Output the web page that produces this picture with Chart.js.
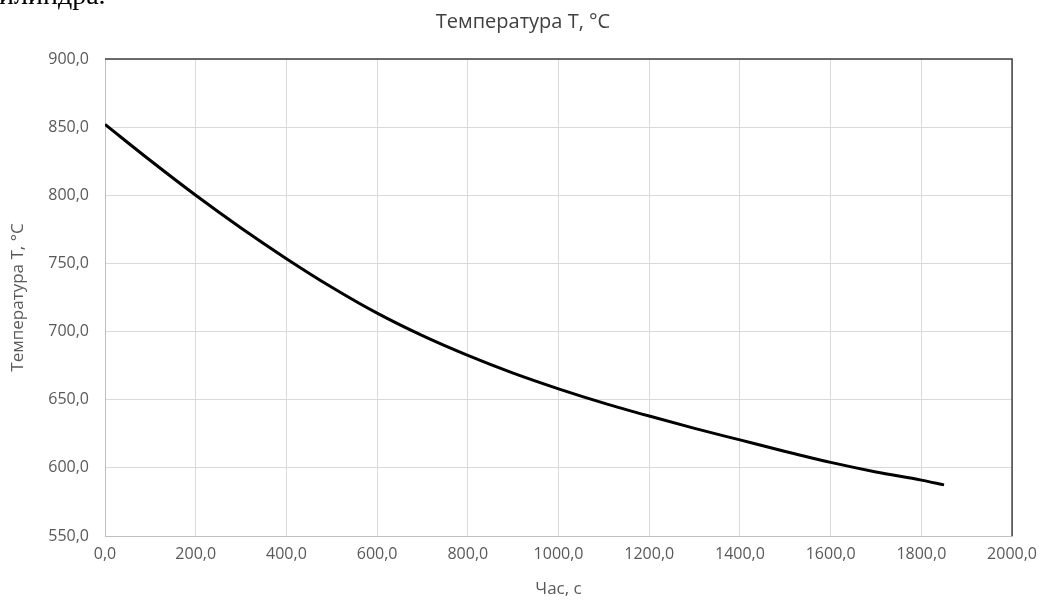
<!DOCTYPE html>
<html>
<head>
<meta charset="utf-8">
<script src="https://cdn.jsdelivr.net/npm/chart.js@4/dist/chart.umd.min.js"></script>
<style>
html,body{margin:0;padding:0;background:#fff;overflow:hidden;}
#wrap{position:relative;width:1046px;height:601px;}
#cut{position:absolute;left:-16px;top:-21px;font-family:"Liberation Serif",serif;font-size:28px;color:#000;white-space:nowrap;}
</style>
</head>
<body>
<div id="wrap">
<canvas id="c" width="1046" height="601"></canvas>
<div id="cut">цилиндра.</div>
</div>
<script>
const timeSec = [0,100,200,300,400,500,600,700,800,900,1000,1100,1200,1300,1400,1500,1600,1700,1800,1850];
const tempC   = [852,825.5,800,776,753.5,732.5,713.5,697,682.5,669.5,658,647.5,638,629,620.5,612,604,597,591,587.5];
const chartTitle = "Температура Т, °С";
const xTitle = "Час, с";
const yTitle = "Температура Т, °С";

const points = timeSec.map((t,i)=>({x:t,y:tempC[i]}));
const fmt = v => Number(v).toFixed(1).replace('.', ',');

const frame = {
  id:'frame',
  afterDatasetsDraw(chart){
    const {ctx, chartArea:a} = chart;
    ctx.save();
    ctx.strokeStyle = '#404040';
    ctx.lineWidth = 1.5;
    ctx.beginPath();
    ctx.moveTo(a.left, a.top);
    ctx.lineTo(a.right, a.top);
    ctx.lineTo(a.right, a.bottom);
    ctx.stroke();
    ctx.restore();
  }
};

const FONT = '"Open Sans"';

new Chart(document.getElementById('c'), {
  type:'line',
  data:{datasets:[{data:points,borderColor:'#000',borderWidth:3,pointRadius:0,cubicInterpolationMode:'monotone',fill:false}]},
  options:{
    responsive:false,animation:false,
    layout:{padding:{left:30,right:30,top:8,bottom:2}},
    plugins:{
      legend:{display:false},tooltip:{enabled:false},
      title:{display:true,text:chartTitle,color:'#404040',font:{family:FONT,size:20,weight:'normal'},padding:{top:2,bottom:25}}
    },
    scales:{
      x:{type:'linear',min:0,max:2000,
        afterFit:s=>{s.height=63;},
        ticks:{stepSize:200,callback:fmt,color:'#595959',font:{family:FONT,size:16},padding:9,maxRotation:0},
        grid:{color:'#d9d9d9',drawTicks:false},
        border:{color:'#bfbfbf'},
        title:{display:true,text:xTitle,color:'#595959',font:{family:FONT,size:17},padding:{top:6,bottom:0}}
      },
      y:{min:550,max:900,
        afterFit:s=>{s.width=75;},
        ticks:{stepSize:50,callback:fmt,color:'#595959',font:{family:FONT,size:16},padding:16},
        grid:{color:'#d9d9d9',drawTicks:false},
        border:{color:'#bfbfbf'},
        title:{display:true,text:yTitle,color:'#595959',font:{family:FONT,size:17},padding:{top:-22,bottom:0}}
      }
    }
  },
  plugins:[frame]
});
</script>
</body>
</html>
